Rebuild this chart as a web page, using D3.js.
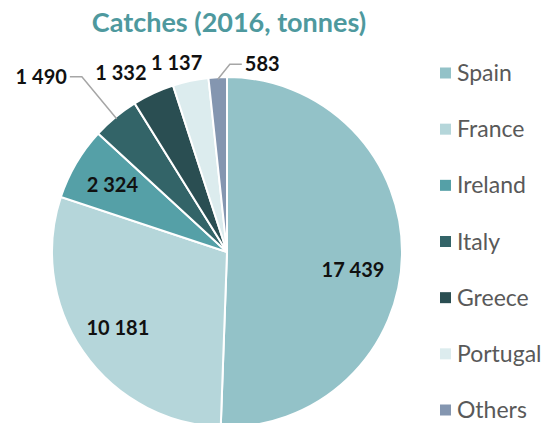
<!DOCTYPE html>
<html><head><meta charset="utf-8">
<script src="https://cdn.jsdelivr.net/npm/d3@7"></script>
<style>body{margin:0;background:#fff}svg{display:block}</style>
</head><body>
<svg id="c" width="547" height="423"></svg>
<script>
const categories = ["Spain","France","Ireland","Italy","Greece","Portugal","Others"];
const values = [17439, 10181, 2324, 1490, 1332, 1137, 583];
const colors = ["#93c2c8","#b5d6da","#55a0a7","#336468","#2a4e52","#dcecee","#8496b0"];
const title = "Catches (2016, tonnes)";

const W = 547, H = 423;
const svg = d3.select("#c");
const cx = 227, cy = 252, R = 175;
const fmt0 = d3.formatLocale({thousands:" ", grouping:[3], decimal:"."}).format(",");
const fmt2 = v => fmt0(v);
const data = categories.map((c,i)=>({c, v:values[i], col:colors[i]}));

svg.append("text").attr("x",229).attr("y",32).attr("text-anchor","middle")
  .attr("font-family","Lato").attr("font-weight","bold").attr("font-size",27)
  .attr("fill","#4e999e").text(title);

const pie = d3.pie().value(d=>d.v).sort(null);
const arcs = pie(data);
const arc = d3.arc().innerRadius(0).outerRadius(R);
const g = svg.append("g").attr("transform",`translate(${cx},${cy})`);
g.selectAll("path").data(arcs).enter().append("path")
  .attr("d",arc).attr("fill",d=>d.data.col).attr("stroke","#fff").attr("stroke-width",2);

const inArc = d3.arc().innerRadius(133).outerRadius(133);
const labStyle = s => s.attr("font-family","Lato").attr("font-weight","bold").attr("font-size",20).attr("fill","#111");
const nudge = {Spain:[-7,16], France:[0,0], Ireland:[0,0]};
arcs.slice(0,3).forEach(a=>{
  const [x,y] = inArc.centroid(a);
  const n = nudge[a.data.c];
  labStyle(g.append("text")).attr("x",x+n[0]).attr("y",y+n[1]).attr("dy","0.35em")
    .attr("text-anchor","middle").text(fmt2(a.data.v));
});
const mid = a => (a.startAngle+a.endAngle)/2;
const pt = (ang,r)=>[Math.sin(ang)*r, -Math.cos(ang)*r];
// Italy with leader
{
  const a = arcs[3];
  const p0 = pt(mid(a), R-2), p1 = pt(mid(a), R*1.3);
  const p2 = [p1[0]-12, p1[1]];
  g.append("polyline").attr("points",[p0,p1,p2].map(p=>p.join(",")).join(" "))
    .attr("fill","none").attr("stroke","#a6a6a6").attr("stroke-width",1.5);
  labStyle(g.append("text")).attr("x",p2[0]-3).attr("y",p2[1]).attr("dy","0.35em")
    .attr("text-anchor","end").text(fmt2(a.data.v));
}
// Greece & Portugal outside
[[4,1.19,-0.1],[5,1.12,-0.05]].forEach(([i,k,da])=>{
  const a = arcs[i];
  const [x,y] = pt(mid(a)+da, R*k);
  labStyle(g.append("text")).attr("x",x).attr("y",y).attr("dy","0.35em")
    .attr("text-anchor","middle").text(fmt2(a.data.v));
});
// Others with leader
{
  const a = arcs[6];
  const p0 = pt(mid(a), R-2);
  const p1 = [p0[0]+12, p0[1]-15];
  const p2 = [p1[0]+12, p1[1]];
  g.append("polyline").attr("points",[p0,p1,p2].map(p=>p.join(",")).join(" "))
    .attr("fill","none").attr("stroke","#a6a6a6").attr("stroke-width",1.5);
  labStyle(g.append("text")).attr("x",p2[0]+3).attr("y",p2[1]).attr("dy","0.35em")
    .attr("text-anchor","start").text(fmt2(a.data.v));
}

// legend
const ly = d3.scalePoint().domain(categories).range([73,410]);
const lg = svg.append("g");
data.forEach(d=>{
  lg.append("rect").attr("x",440).attr("y",ly(d.c)-5.5).attr("width",11).attr("height",11).attr("fill",d.col);
  lg.append("text").attr("x",457).attr("y",ly(d.c)).attr("dy","0.35em")
    .attr("font-family","Lato").attr("font-size",23).attr("fill","#595959").text(d.c);
});
</script>
</body></html>
